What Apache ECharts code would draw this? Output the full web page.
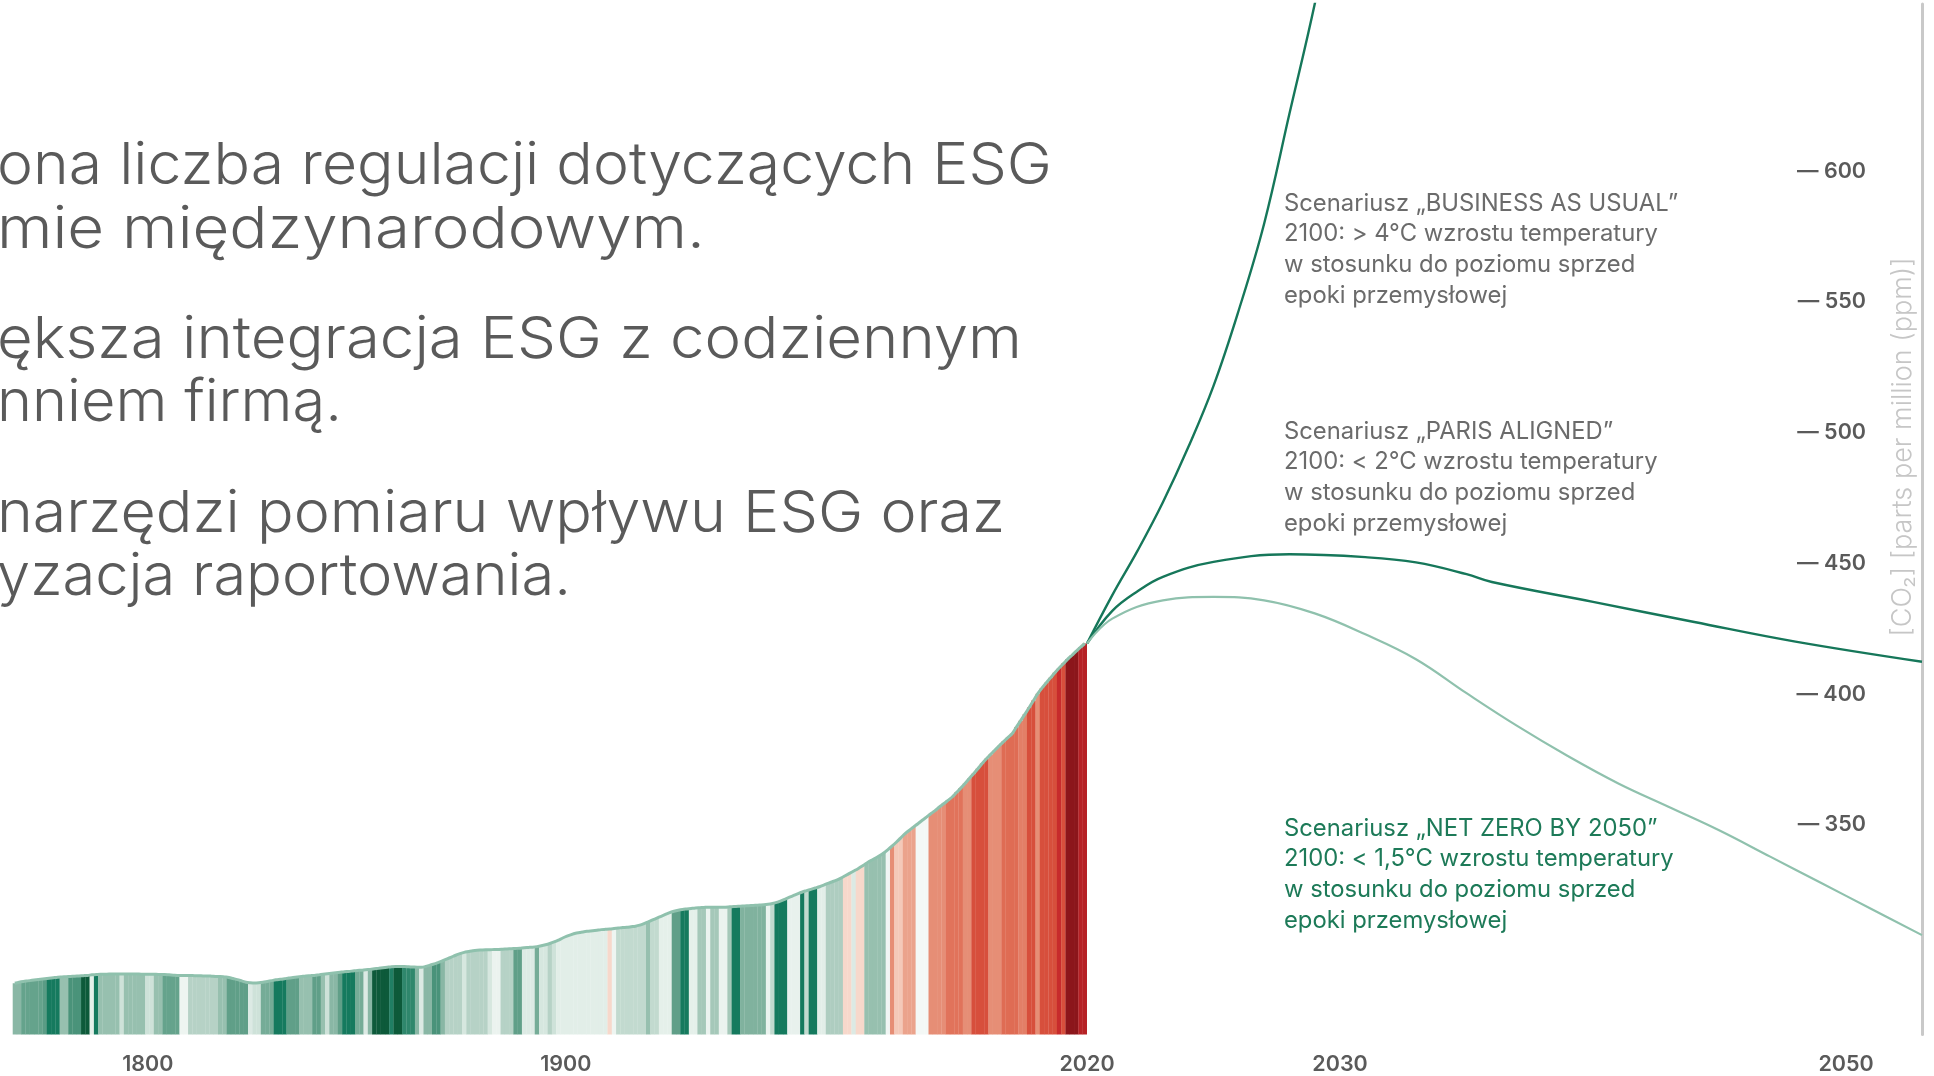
<!DOCTYPE html>
<html>
<head>
<meta charset="utf-8">
<script src="https://cdn.jsdelivr.net/npm/echarts@6/dist/echarts.min.js"></script>
<style>
html,body{margin:0;padding:0;background:#ffffff;}
#chart{width:1934px;height:1076px;}
</style>
</head>
<body>
<div id="chart"></div>
<script>
// ---------------- DATA ----------------
const histYears = [];
for (let y = 1770; y <= 2020; y++) histYears.push(String(y));

// CO2 concentration (ppm) read from the stripes' upper edge, 1770..2020
const histCO2 = [
  287.6, 288.0, 288.3, 288.5, 288.7, 288.9, 289.1, 289.3, 289.5, 289.7,
  289.9, 290.0, 290.1, 290.2, 290.3, 290.4, 290.5, 290.6, 290.8, 290.9,
  291.0, 291.0, 291.1, 291.1, 291.1, 291.1, 291.1, 291.1, 291.1, 291.1,
  291.0, 291.0, 291.0, 291.0, 290.9, 290.9, 290.8, 290.7, 290.6, 290.6,
  290.6, 290.6, 290.5, 290.5, 290.4, 290.4, 290.3, 290.2, 290.2, 290.0,
  289.8, 289.4, 289.0, 288.5, 288.0, 287.8, 287.7, 287.8, 288.0, 288.3,
  288.6, 288.9, 289.1, 289.3, 289.6, 289.8, 290.0, 290.2, 290.4, 290.5,
  290.6, 290.8, 291.0, 291.2, 291.4, 291.6, 291.8, 292.0, 292.1, 292.3,
  292.5, 292.6, 292.8, 292.9, 293.1, 293.3, 293.5, 293.7, 293.9, 294.0,
  294.0, 294.0, 293.9, 293.8, 293.7, 293.7, 294.0, 294.5, 295.0, 295.6,
  296.2, 296.9, 297.6, 298.3, 298.9, 299.4, 299.7, 300.0, 300.2, 300.3,
  300.4, 300.4, 300.5, 300.5, 300.6, 300.7, 300.8, 300.9, 301.0, 301.2,
  301.3, 301.4, 301.6, 301.9, 302.3, 302.8, 303.4, 304.1, 304.9, 305.6,
  306.2, 306.7, 307.0, 307.3, 307.5, 307.7, 307.9, 308.1, 308.2, 308.3,
  308.5, 308.7, 308.9, 309.0, 309.2, 309.4, 309.8, 310.4, 311.1, 311.8,
  312.5, 313.2, 313.9, 314.6, 315.1, 315.5, 315.8, 316.0, 316.2, 316.4,
  316.5, 316.6, 316.7, 316.7, 316.7, 316.7, 316.7, 316.8, 316.9, 317.0,
  317.1, 317.2, 317.3, 317.4, 317.5, 317.6, 317.8, 318.1, 318.5, 319.1,
  319.8, 320.5, 321.2, 321.9, 322.5, 323.0, 323.5, 324.0, 324.5, 325.1,
  325.8, 326.4, 327.0, 327.8, 328.7, 329.6, 330.5, 331.4, 332.4, 333.5,
  334.5, 335.4, 336.3, 337.4, 338.7, 340.1, 341.6, 343.2, 344.8, 346.1,
  347.4, 348.6, 349.9, 351.1, 352.4, 353.6, 355.0, 356.2, 357.5, 358.8,
  360.5, 362.2, 364.0, 365.9, 367.7, 369.6, 371.6, 373.4, 375.1, 376.8,
  378.4, 380.0, 381.5, 383.0, 385.5, 388.0, 390.5, 393.0, 395.7, 398.3,
  400.5, 402.5, 404.4, 406.3, 408.1, 409.8, 411.5, 413.0, 414.6, 416.1,
  417.5
];

const histAnomaly = [
  -0.28,-0.28,-0.35,-0.35,-0.35,-0.35,-0.35,-0.37,-0.5,-0.5,
  -0.5,-0.25,-0.25,-0.4,-0.4,-0.4,-0.6,-0.6,-0.05,-0.5,
  -0.25,-0.25,-0.25,-0.25,-0.25,-0.12,-0.25,-0.25,-0.25,-0.25,
  -0.25,-0.12,-0.12,-0.25,-0.25,-0.35,-0.35,-0.35,-0.35,-0.02,
  -0.02,-0.18,-0.18,-0.18,-0.18,-0.18,-0.18,-0.18,-0.25,-0.25,
  -0.36,-0.36,-0.36,-0.36,-0.36,-0.08,-0.12,-0.12,-0.32,-0.32,
  -0.32,-0.5,-0.5,-0.5,-0.36,-0.36,-0.36,-0.25,-0.25,-0.25,
  -0.36,-0.36,-0.25,-0.12,-0.28,-0.28,-0.36,-0.5,-0.5,-0.5,
  -0.32,-0.32,-0.08,-0.28,-0.6,-0.6,-0.6,-0.6,-0.48,-0.6,
  -0.6,-0.45,-0.45,-0.45,-0.28,-0.08,-0.28,-0.28,-0.4,-0.4,
  -0.28,-0.18,-0.18,-0.18,-0.18,-0.1,-0.18,-0.18,-0.18,-0.18,
  -0.18,-0.1,-0.03,-0.03,-0.18,-0.18,-0.18,-0.36,-0.36,-0.08,
  -0.08,-0.08,-0.32,-0.1,-0.1,-0.18,-0.12,-0.06,-0.06,-0.06,
  -0.06,-0.06,-0.06,-0.06,-0.06,-0.06,-0.06,-0.06,-0.06,0.1,
  -0.02,-0.15,-0.15,-0.15,-0.15,-0.15,-0.15,-0.15,-0.25,-0.15,
  -0.15,-0.05,-0.05,-0.05,-0.36,-0.36,-0.5,-0.5,-0.05,-0.05,
  -0.22,-0.22,-0.03,-0.22,-0.22,-0.03,-0.03,-0.22,-0.5,-0.5,
  -0.3,-0.3,-0.3,-0.3,-0.3,-0.3,-0.03,-0.15,-0.5,-0.5,
  -0.5,-0.04,-0.04,-0.04,-0.5,-0.15,-0.5,-0.5,-0.06,-0.06,
  -0.2,-0.2,-0.2,-0.2,0.1,0.1,-0.08,0.1,0.1,-0.25,
  -0.25,-0.25,-0.25,-0.25,-0.01,0.36,0.15,0.15,0.28,0.28,
  0.28,0.0,0.0,0.0,0.36,0.36,0.36,0.36,0.47,0.47,
  0.47,0.47,0.36,0.36,0.62,0.62,0.62,0.62,0.36,0.36,
  0.36,0.5,0.5,0.5,0.5,0.42,0.42,0.62,0.62,0.36,
  0.62,0.62,0.62,0.62,0.78,0.62,1.0,1.0,1.0,0.85,
  0.85
];

const histTickLabels = ['1800', '1900'];
const futureTickLabels = [2020, 2030, 2050];
const yTickValues = [350, 400, 450, 500, 550, 600];

const bauYears = [2020, 2021, 2022, 2023, 2024, 2025, 2026, 2027, 2028, 2029, 2030];
const bauCO2   = [417.5, 436, 453, 471.5, 492.5, 516, 545, 578, 620, 662, 710];

const parisYears = [2020, 2021, 2022, 2023, 2025, 2028, 2031, 2033, 2035, 2036, 2040, 2044, 2048, 2053];
const parisCO2   = [417.5, 430, 437.5, 443, 448.7, 451.6, 450.5, 448.5, 444, 441, 433.4, 425.7, 418.2, 410.5];

const netZeroYears = [2020, 2021, 2023, 2025, 2027, 2029, 2031, 2033, 2035, 2037, 2039, 2041, 2043, 2045, 2047, 2049, 2051, 2053];
const netZeroCO2   = [417.5, 427, 434, 435.3, 434, 429, 421, 411.5, 398.5, 386, 374.5, 364, 355, 346, 336, 326, 316, 306];

const bodyLines = [
  'ona liczba regulacji dotyczących ESG',
  'mie międzynarodowym.',
  'ększa integracja ESG z codziennym',
  'nniem firmą.',
  'narzędzi pomiaru wpływu ESG oraz',
  'yzacja raportowania.'
];
const bauNote = ['Scenariusz „BUSINESS AS USUAL”', '2100: > 4°C wzrostu temperatury', 'w stosunku do poziomu sprzed', 'epoki przemysłowej'];
const parisNote = ['Scenariusz „PARIS ALIGNED”', '2100: < 2°C wzrostu temperatury', 'w stosunku do poziomu sprzed', 'epoki przemysłowej'];
const netZeroNote = ['Scenariusz „NET ZERO BY 2050”', '2100: < 1,5°C wzrostu temperatury', 'w stosunku do poziomu sprzed', 'epoki przemysłowej'];
const yAxisTitle = '[CO₂] [parts per million (ppm)]';

// ---------------- CHART ----------------
const chart = echarts.init(document.getElementById('chart'), null, {renderer: 'canvas'});

const FONT = 'Inter, "Noto Sans", sans-serif';
const BODY_FONT = '300 58px ' + FONT;
const bodyLeft = -3;
const bodyRight = [1052, 705, 1022, 342, 1005, 571];
const bodyY = [167, 231, 341, 404, 515, 578];

const measureCtx = document.createElement('canvas').getContext('2d');
measureCtx.font = BODY_FONT;

const graphics = [];
bodyLines.forEach((t, i) => {
  const w = measureCtx.measureText(t).width;
  graphics.push({
    type: 'text', x: bodyLeft, y: bodyY[i], silent: true,
    scaleX: (bodyRight[i] - bodyLeft) / w,
    style: {text: t, fill: '#5a5a5a', font: BODY_FONT, textAlign: 'left', textVerticalAlign: 'middle'}
  });
});
function note(lines, x, y, color) {
  return {
    type: 'text', x: x, y: y, silent: true,
    style: {text: lines.join('\n'), fill: color, font: '400 23.8px ' + FONT, lineHeight: 30.7, textAlign: 'left', textVerticalAlign: 'top'}
  };
}
graphics.push(note(bauNote, 1284, 188, '#6b6b6b'));
graphics.push(note(parisNote, 1284, 416, '#6b6b6b'));
graphics.push(note(netZeroNote, 1284, 813, '#1d7a58'));
graphics.push({
  type: 'text', x: 1903, y: 447, rotation: Math.PI / 2, silent: true,
  style: {text: yAxisTitle, fill: '#c6c6c6', font: '300 27px ' + FONT, textAlign: 'center', textVerticalAlign: 'middle'}
});

const axisLabelStyle = {color: '#5a5a5a', fontSize: 21.5, fontWeight: 600, fontFamily: FONT};

const option = {
  animation: false,
  backgroundColor: '#ffffff',
  grid: [
    {left: 12.7, top: 4, width: 1074.3, height: 1031},
    {left: 1087, top: 4, width: 835, height: 1031}
  ],
  xAxis: [
    {
      type: 'category', gridIndex: 0, data: histYears, boundaryGap: true,
      axisLine: {show: false}, axisTick: {show: false}, splitLine: {show: false},
      axisLabel: Object.assign({
        interval: (idx, val) => histTickLabels.indexOf(val) >= 0, margin: 19.5,
        formatter: v => (v === '1800' ? '{a|' + v + '}' : '{b|' + v + '}'),
        rich: {
          a: {padding: [0, 0, 0, 9], color: '#5a5a5a', fontSize: 21.5, fontWeight: 600, fontFamily: FONT},
          b: {padding: [0, 11, 0, 0], color: '#5a5a5a', fontSize: 21.5, fontWeight: 600, fontFamily: FONT}
        }
      }, axisLabelStyle)
    },
    {
      type: 'value', gridIndex: 1, min: 2020, max: 2053,
      axisLine: {show: false}, axisTick: {show: false}, splitLine: {show: false},
      axisLabel: Object.assign({customValues: futureTickLabels, formatter: v => String(v), margin: 19.5}, axisLabelStyle)
    }
  ],
  yAxis: [
    {type: 'value', gridIndex: 0, min: 268, max: 662, show: false},
    {
      type: 'value', gridIndex: 1, min: 268, max: 662, position: 'right',
      axisLine: {show: true, lineStyle: {color: '#c9c9c9', width: 3}},
      axisTick: {show: false}, splitLine: {show: false},
      axisLabel: Object.assign({
        inside: true, margin: 56, customValues: yTickValues,
        formatter: v => '{t|— ' + v + '}',
        rich: {t: {padding: [10, 0, 0, 0], color: '#5a5a5a', fontSize: 21.5, fontWeight: 600, fontFamily: FONT}}
      }, axisLabelStyle)
    }
  ],
  visualMap: {
    show: false, type: 'continuous', seriesIndex: 0, dimension: 2, min: -0.6, max: 1.0,
    inRange: {color: ['#0d5a3a','#157a5e','#4a937a','#80b29e','#aecdc0','#d6e7df','#f4f8f6','#f7d8cb','#f0b9a6','#ea9d86','#e4846c','#df6c54','#d9533e','#d13d32','#c4262a','#a81d22','#8c161b']}
  },
  series: [
    {
      type: 'bar', xAxisIndex: 0, yAxisIndex: 0, encode: {x: 0, y: 1},
      barWidth: '106%', barCategoryGap: 0,
      data: histYears.map((y, i) => [y, histCO2[i], histAnomaly[i]]),
      itemStyle: {borderWidth: 0}
    },
    {
      type: 'line', xAxisIndex: 0, yAxisIndex: 0, data: histCO2, smooth: 0.3,
      symbol: 'none', lineStyle: {color: '#8fc1ad', width: 3}, z: 5
    },
    {
      type: 'line', xAxisIndex: 1, yAxisIndex: 1, clip: true, smooth: 0.4, symbol: 'none',
      data: bauYears.map((y, i) => [y, bauCO2[i]]),
      lineStyle: {color: '#16775a', width: 2.4}
    },
    {
      type: 'line', xAxisIndex: 1, yAxisIndex: 1, clip: true, smooth: 0.4, symbol: 'none',
      data: parisYears.map((y, i) => [y, parisCO2[i]]),
      lineStyle: {color: '#16775a', width: 2.4}
    },
    {
      type: 'line', xAxisIndex: 1, yAxisIndex: 1, clip: true, smooth: 0.4, symbol: 'none',
      data: netZeroYears.map((y, i) => [y, netZeroCO2[i]]),
      lineStyle: {color: '#8fc1ad', width: 2.2}
    }
  ],
  graphic: graphics
};
chart.setOption(option);
</script>
</body>
</html>
